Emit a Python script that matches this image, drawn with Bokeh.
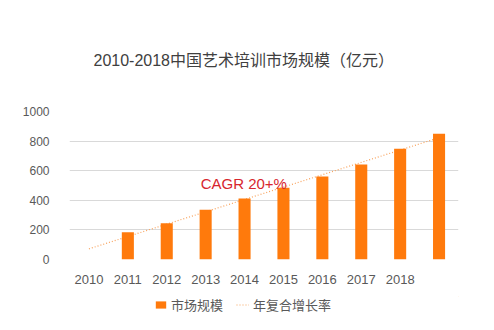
from bokeh.plotting import figure
from bokeh.models import ColumnDataSource, Range1d, FactorRange, Legend, LegendItem
from bokeh.layouts import column
from bokeh.core.properties import value
from bokeh.embed import file_html
from bokeh.resources import INLINE

# ---- data ----
categories = ["2010", "2011", "2012", "2013", "2014", "2015", "2016", "2017", "2018", " "]
bar_years = ["2011", "2012", "2013", "2014", "2015", "2016", "2017", "2018", " "]
market_size = [184, 245, 336, 412, 484, 561, 642, 748, 849]
trend_x = ["2010", " "]
trend_y = [72, 823]
y_ticks = [0, 200, 400, 600, 800, 1000]
title_text = "2010-2018中国艺术培训市场规模（亿元）"
cagr_text = "CAGR 20+%"
legend_labels = ["市场规模", "年复合增长率"]

FONT = "'Liberation Sans', 'Noto Sans CJK SC', sans-serif"
BAR_COLOR = "#ff7a0c"
LINE_COLOR = "#f8a25c"

p = figure(width=494, height=296, output_backend="svg", toolbar_location=None,
           x_range=FactorRange(*categories, range_padding=0),
           y_range=Range1d(0, 1000),
           min_border_left=69, min_border_right=36,
           min_border_top=111, min_border_bottom=37)
p.outline_line_color = None
p.background_fill_color = "white"
p.border_fill_color = "white"

# title
p.title.text = title_text
p.title.text_font = FONT
p.title.text_font_size = "16px"
p.title.text_font_style = "normal"
p.title.text_color = "#404040"
p.title.align = "left"
p.title.offset = 24
p.title.standoff = 86

# trend line (drawn first, bars on top)
p.line(x=trend_x, y=trend_y, line_color=LINE_COLOR, line_width=1.2, line_dash="1 2")

src = ColumnDataSource(dict(x=bar_years, top=market_size))
p.vbar(x="x", top="top", width=0.31, source=src, fill_color=BAR_COLOR, line_color=None)

# CAGR annotation
p.text(x=["2013"], y=[515], text=[cagr_text], x_offset=-5,
       text_font=value(FONT), text_font_size="15px", text_color="#d7262e",
       text_align="left", text_baseline="alphabetic")

# axes
p.yaxis.ticker = y_ticks
p.yaxis.axis_line_color = None
p.yaxis.major_tick_line_color = None
p.yaxis.minor_tick_line_color = None
p.yaxis.major_label_text_font = FONT
p.yaxis.major_label_text_font_size = "12px"
p.yaxis.major_label_text_color = "#595959"
p.yaxis.major_label_standoff = 14

p.xaxis.axis_line_color = None
p.xaxis.major_tick_line_color = None
p.xaxis.major_label_text_font = FONT
p.xaxis.major_label_text_font_size = "13px"
p.xaxis.major_label_text_color = "#595959"
p.xaxis.major_label_standoff = 6

p.xgrid.grid_line_color = None
p.ygrid.grid_line_color = "#d9d9d9"
p.ygrid.grid_line_width = 1

# legend strip below the chart (its frame is aligned with the chart's frame)
lg = figure(width=494, height=34, output_backend="svg", toolbar_location=None,
            x_range=Range1d(0, 1), y_range=Range1d(0, 1),
            min_border=0)
lg.outline_line_color = None
lg.axis.visible = False
lg.grid.visible = False
# sample glyphs kept outside the visible range; they only feed the legend keys
lb = lg.vbar(x=[5], top=[5], bottom=[4], width=0.3, fill_color=BAR_COLOR, line_color=None)
ll = lg.line(x=[5, 6], y=[5, 5], line_color=LINE_COLOR, line_width=1.2, line_dash="1 2")
legend = Legend(items=[LegendItem(label=legend_labels[0], renderers=[lb]),
                       LegendItem(label=legend_labels[1], renderers=[ll])],
                orientation="horizontal", location=(85, 16),
                label_text_font=FONT, label_text_font_size="13px",
                label_text_color="#595959", glyph_width=13, glyph_height=9,
                spacing=13, label_standoff=4, border_line_color=None,
                background_fill_alpha=0, padding=2, margin=0)
lg.add_layout(legend)

layout = column(p, lg, spacing=0)
open("out.html", "w").write(file_html(layout, INLINE))
